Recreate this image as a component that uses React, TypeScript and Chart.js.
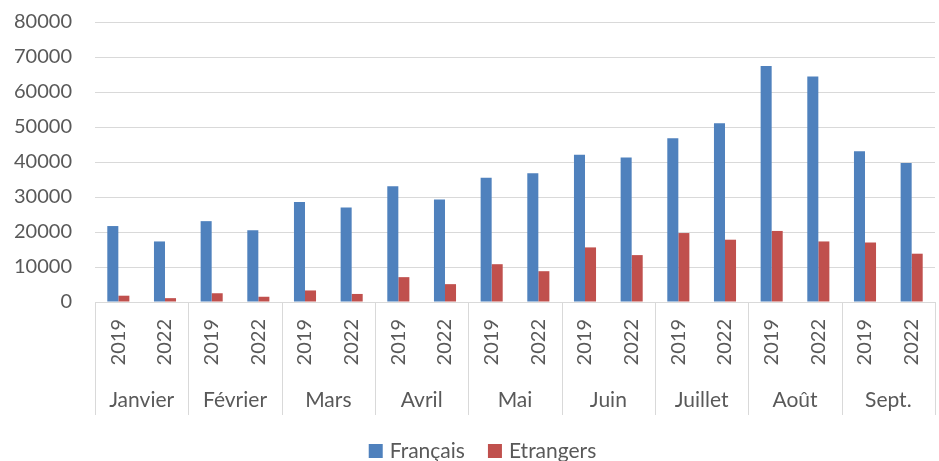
import React, { useEffect, useRef } from "react";
import { Chart, registerables } from "chart.js";

Chart.register(...registerables);

const months = ["Janvier", "Février", "Mars", "Avril", "Mai", "Juin", "Juillet", "Août", "Sept."];
const years = ["2019", "2022"];
const francais = [21700, 17300, 23100, 20500, 28600, 27000, 33100, 29300, 35500, 36800, 42100, 41300, 46800, 51100, 67400, 64400, 43100, 39700];
const etrangers = [1800, 1100, 2500, 1500, 3300, 2300, 7100, 5100, 10800, 8800, 15600, 13400, 19700, 17800, 20300, 17300, 17000, 13800];
const yTicks = [0, 10000, 20000, 30000, 40000, 50000, 60000, 70000, 80000];

const FONT = "Lato, 'Open Sans', sans-serif";
const TEXT = "#595959";
const GRID = "#d9d9d9";

const categories: string[] = [];
months.forEach(() => years.forEach((y) => categories.push(y)));

const monthPlugin = {
  id: "monthPlugin",
  afterDraw(chart: any) {
    const { ctx, chartArea } = chart;
    const x = chart.scales.x;
    const step = (x.right - x.left) / months.length;
    ctx.save();
    ctx.strokeStyle = GRID;
    ctx.lineWidth = 1;
    for (let i = 0; i <= months.length; i++) {
      const px = Math.round(x.left + i * step) + 0.5;
      ctx.beginPath();
      ctx.moveTo(px, chartArea.bottom);
      ctx.lineTo(px, 415);
      ctx.stroke();
    }
    ctx.fillStyle = TEXT;
    ctx.font = `21px ${FONT}`;
    ctx.textAlign = "center";
    ctx.textBaseline = "middle";
    months.forEach((m, i) => {
      ctx.fillText(m, x.left + (i + 0.5) * step, 400);
    });

    // legend
    const ds = chart.data.datasets;
    const box = 14;
    const gapText = 7;
    const gapItem = 23;
    ctx.font = `21px ${FONT}`;
    const widths = ds.map((d: any) => box + gapText + ctx.measureText(d.label).width);
    const total = widths.reduce((a: number, b: number) => a + b, 0) + gapItem * (ds.length - 1);
    let lx = 482.5 - total / 2;
    const cy = 451;
    ctx.textAlign = "left";
    ds.forEach((d: any, i: number) => {
      ctx.fillStyle = d.backgroundColor;
      ctx.fillRect(lx, cy - box / 2, box, box);
      ctx.fillStyle = TEXT;
      ctx.fillText(d.label, lx + box + gapText, cy);
      lx += widths[i] + gapItem;
    });
    ctx.restore();
  },
};

export default function App() {
  const ref = useRef<HTMLCanvasElement | null>(null);
  useEffect(() => {
    if (!ref.current) return;
    const chart = new Chart(ref.current, {
      type: "bar",
      data: {
        labels: categories,
        datasets: [
          { label: "Français", data: francais, backgroundColor: "#4F81BD", categoryPercentage: 0.473, barPercentage: 1 },
          { label: "Etrangers", data: etrangers, backgroundColor: "#C0504D", categoryPercentage: 0.473, barPercentage: 1 },
        ],
      },
      options: {
        animation: false,
        responsive: true,
        maintainAspectRatio: false,
        layout: { padding: { top: 22, right: 4, left: 0, bottom: 0 } },
        plugins: {
          tooltip: { enabled: false },
          legend: { display: false },
        },
        scales: {
          x: {
            grid: { display: false, drawTicks: false },
            border: { display: false },
            ticks: {
              color: TEXT,
              font: { family: FONT, size: 20 },
              minRotation: 90,
              maxRotation: 90,
              padding: 17,
              autoSkip: false,
            },
            afterFit(scale: any) {
              scale.height = 159;
              scale.paddingLeft = 0;
              scale.paddingRight = 0;
            },
          },
          y: {
            min: 0,
            max: 80000,
            afterBuildTicks(scale: any) {
              scale.ticks = yTicks.map((v) => ({ value: v }));
            },
            grid: { color: GRID, lineWidth: 1, drawTicks: false },
            border: { display: false },
            ticks: {
              color: TEXT,
              font: { family: FONT, size: 20 },
              padding: 23,
              callback: (v: any) => String(v),
            },
            afterFit(scale: any) {
              scale.width = 95;
              scale.paddingTop = 0;
              scale.paddingBottom = 0;
            },
          },
        },
      },
      plugins: [monthPlugin],
    });
    return () => chart.destroy();
  }, []);
  return (
    <div style={{ position: "absolute", left: 0, top: 0, width: 939, height: 461 }}>
      <canvas ref={ref} />
    </div>
  );
}
